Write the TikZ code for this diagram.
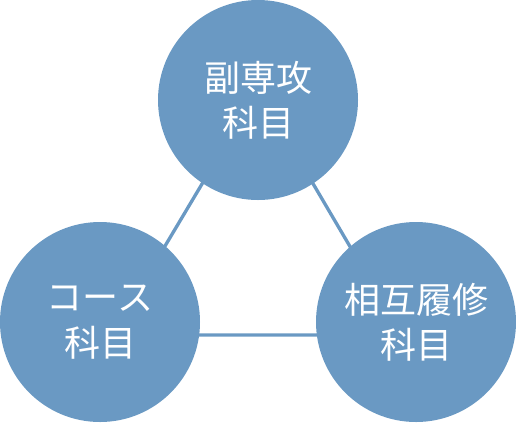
\documentclass[tikz,border=0pt]{standalone}
\usepackage{fontspec}
\newfontfamily\jpfont{Noto Sans CJK JP}
\usetikzlibrary{backgrounds}
\definecolor{subjblue}{RGB}{106,153,195}
\tikzset{
  subject/.style={circle, fill=subjblue, minimum size=150pt, inner sep=0pt,
    text=white, align=center, font=\jpfont\fontsize{27pt}{34pt}\selectfont},
  link/.style={draw=subjblue, line width=2.5pt}
}
\begin{document}
\begin{tikzpicture}[x=0.75pt,y=0.75pt,yscale=-1,xscale=1]
\useasboundingbox (0,0) rectangle (516,422);

%Shape: Circle [id:minor] 
\node [subject] (minor) at (258,100) {副専攻\\科目};
%Shape: Circle [id:course] 
\node [subject] (course) at (100,322) {コース\\科目};
%Shape: Circle [id:mutual] 
\node [subject] (mutual) at (416,322) {相互履修\\科目};

%Straight Lines 
\begin{scope}[on background layer]
\draw [link] ([yshift=-7.5pt]minor.center) -- ([xshift=9pt,yshift=9.75pt]course.center) -- ([xshift=-10.5pt,yshift=9.75pt]mutual.center) -- cycle ;
\end{scope}

\end{tikzpicture}
\end{document}
